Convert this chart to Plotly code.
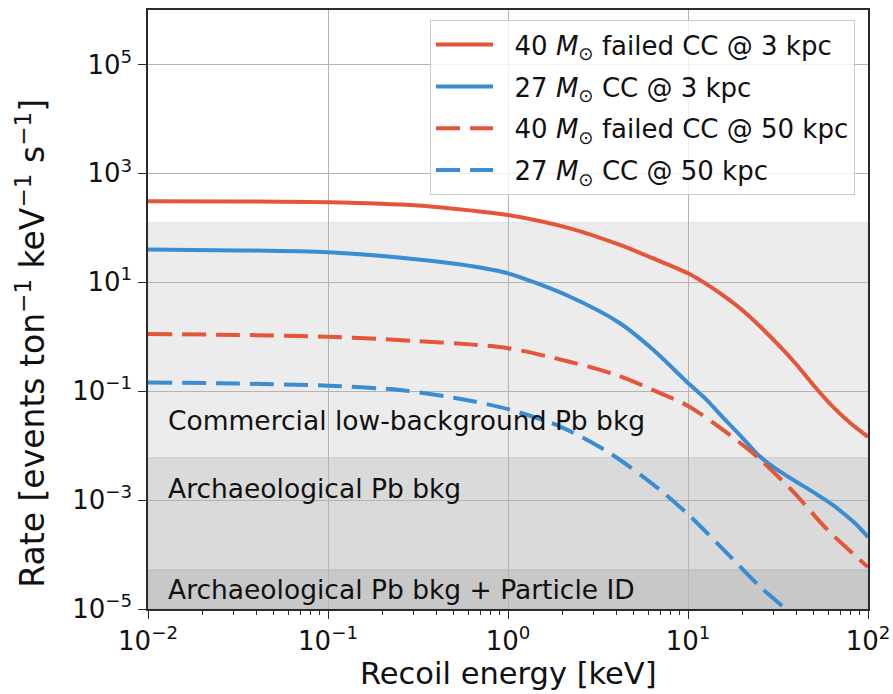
import plotly.graph_objects as go

# Recoil energy [keV] and rate [events ton^-1 keV^-1 s^-1] for each model
e_fail_3kpc = [0.01, 0.0316, 0.1, 0.316, 0.615, 1.0, 2.21, 4.19, 6.70, 10.0,
               12.6, 15.8, 20.0, 25.1, 31.6, 39.8, 50.1, 63.1, 79.4, 100.0]
r_fail_3kpc = [309, 305, 295, 257, 209, 172, 97.7, 48.4, 25.7, 14.6,
               9.33, 5.62, 3.09, 1.55, 0.724, 0.316, 0.126, 0.0537, 0.0263, 0.0145]

e_cc_3kpc = [0.01, 0.0316, 0.1, 0.316, 0.615, 1.0, 2.21, 4.19, 6.41, 10.0,
             12.6, 15.8, 20.0, 25.1, 31.6, 38.5, 45.7, 54.1, 63.1, 72.9, 85.1, 100.0]
r_cc_3kpc = [39.8, 38.5, 35.5, 26.3, 20.0, 14.6, 5.43, 1.77, 0.575, 0.141,
             0.0708, 0.0316, 0.0141, 0.00631, 0.00355, 0.00234, 0.00166, 0.00117,
             0.000832, 0.000575, 0.000372, 0.000209]

e_fail_50kpc = [0.01, 0.0316, 0.1, 0.316, 0.615, 1.0, 2.14, 3.98, 6.31, 10.0,
                15.8, 25.1, 38.5, 58.9, 100.0]
r_fail_50kpc = [1.12, 1.08, 1.0, 0.832, 0.724, 0.617, 0.355, 0.200, 0.107, 0.0537,
                0.0191, 0.00562, 0.00141, 0.000295, 0.0000589]

e_cc_50kpc = [0.01, 0.0316, 0.1, 0.251, 0.501, 1.0, 1.95, 3.69, 6.98, 10.3,
              16.4, 25.1, 35.5, 50.1]
r_cc_50kpc = [0.145, 0.138, 0.126, 0.105, 0.0759, 0.0468, 0.0224, 0.00724, 0.00155,
              0.000501, 0.000107, 0.0000257, 0.00000955, 0.00000355]

# Background levels (edges of each shaded band, same units as the rate)
band_labels = ["Commercial low-background Pb bkg",
               "Archaeological Pb bkg",
               "Archaeological Pb bkg + Particle ID"]
band_upper = [125.0, 6.0e-3, 5.2e-5]
band_lower = [6.0e-3, 5.2e-5, 1.0e-5]

# Axis ticks
x_tickvals = [1e-2, 1e-1, 1e0, 1e1, 1e2]
x_ticktext = ["10<sup>\u22122</sup>", "10<sup>\u22121</sup>", "10<sup>0</sup>",
              "10<sup>1</sup>", "10<sup>2</sup>"]
y_tickvals = [1e-5, 1e-3, 1e-1, 1e1, 1e3, 1e5]
y_ticktext = ["10<sup>\u22125</sup>", "10<sup>\u22123</sup>", "10<sup>\u22121</sup>",
              "10<sup>1</sup>", "10<sup>3</sup>", "10<sup>5</sup>"]

RED = "#E5553A"
BLUE = "#3A8DD2"
MSUN = "<i>M</i><sub>\u2299</sub>"
FONT = "DejaVu Sans"
NB = "\u00a0\u00a0"

series = [
    (e_fail_3kpc, r_fail_3kpc, RED, "solid", f"{NB}40 {MSUN} failed CC @ 3 kpc"),
    (e_cc_3kpc, r_cc_3kpc, BLUE, "solid", f"{NB}27 {MSUN} CC @ 3 kpc"),
    (e_fail_50kpc, r_fail_50kpc, RED, "24px,10px", f"{NB}40 {MSUN} failed CC @ 50 kpc"),
    (e_cc_50kpc, r_cc_50kpc, BLUE, "24px,10px", f"{NB}27 {MSUN} CC @ 50 kpc"),
]

fig = go.Figure()
for i, (e, r, col, dash, name) in enumerate(series):
    fig.add_trace(go.Scatter(
        x=e, y=r, mode="lines", name=name, legendgroup=f"g{i}",
        line=dict(color=col, width=4, dash=dash, shape="spline", smoothing=0.8),
    ))

band_fill = ["#ececec", "#dadada", "#c8c8c8"]
band_edge = ["#e2e2e2", "#cccccc", "#bbbbbb"]
for lo, hi, fc, ec in zip(band_lower, band_upper, band_fill, band_edge):
    fig.add_shape(type="rect", xref="x", yref="y", x0=0.01, x1=100, y0=lo, y1=hi,
                  fillcolor=fc, line=dict(color=ec, width=1), layer="below")

band_label_y = [-1.53, -2.78, -4.65]
for txt, ly in zip(band_labels, band_label_y):
    fig.add_annotation(text=txt, xref="x domain", yref="y", x=0.025, y=ly,
                       xanchor="left", yanchor="middle", showarrow=False,
                       font=dict(family=FONT, size=26.5, color="#111"))

fig.add_annotation(
    text="Rate [events ton<sup>\u22121</sup> keV<sup>\u22121</sup> s<sup>\u22121</sup>]",
    textangle=-90, xref="paper", yref="paper", x=-0.163, y=0.444,
    xanchor="center", yanchor="middle", showarrow=False,
    font=dict(family=FONT, size=33, color="#111"))
fig.add_annotation(text="Recoil energy [keV]", xref="paper", yref="paper",
                   x=0.5, y=-0.1085, xanchor="center", yanchor="middle",
                   showarrow=False, font=dict(family=FONT, size=30.5, color="#111"))

axis_common = dict(
    type="log", showgrid=True, gridcolor="#b4b4b4", gridwidth=1,
    showline=True, linecolor="#2b2b2b", linewidth=1.5, mirror=True,
    ticks="outside", ticklen=8, tickwidth=1.3, tickcolor="#2b2b2b",
    tickfont=dict(family=FONT, size=26, color="#111"), zeroline=False,
    tickmode="array", automargin=False,
)
fig.update_xaxes(range=[-2, 2], tickvals=x_tickvals, ticktext=x_ticktext,
                 minor=dict(ticks="outside", ticklen=4, tickwidth=1, tickcolor="#2b2b2b",
                            dtick="D1", showgrid=False),
                 **axis_common)
fig.update_yaxes(range=[-5, 6], tickvals=y_tickvals, ticktext=y_ticktext,
                 ticklabelstandoff=1, **axis_common)

fig.update_layout(
    width=893, height=694,
    margin=dict(l=148, r=25, t=10, b=85),
    paper_bgcolor="white", plot_bgcolor="white",
    font=dict(family=FONT, color="#111"),
    legend=dict(x=0.982, y=0.983, xanchor="right", yanchor="top",
                bgcolor="rgba(255,255,255,0.8)", bordercolor="#cccccc", borderwidth=1,
                font=dict(family=FONT, size=26, color="#111"),
                itemwidth=57, tracegroupgap=5, traceorder="grouped"),
)

fig.write_html("out.html")
